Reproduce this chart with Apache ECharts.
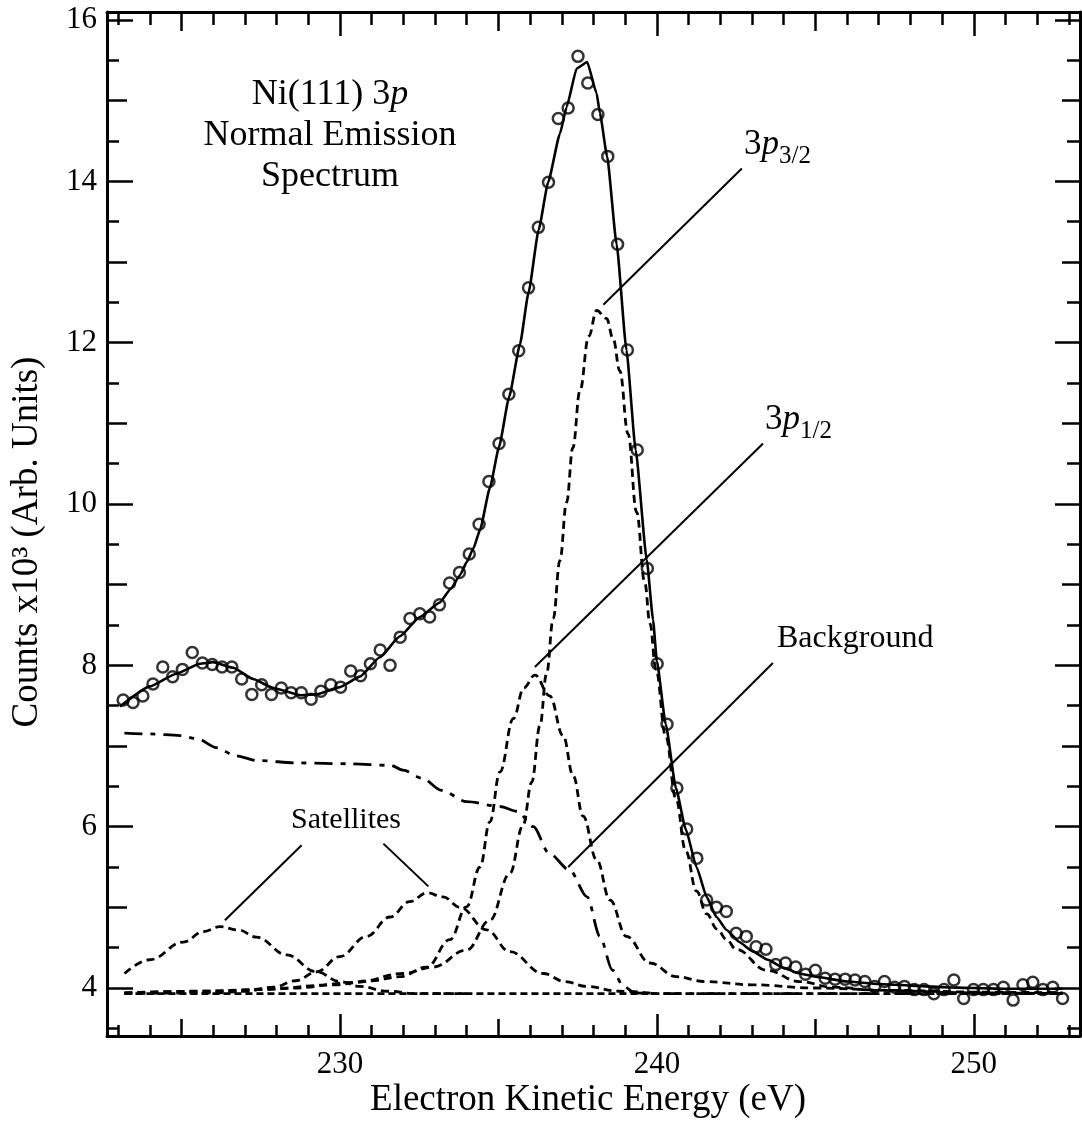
<!DOCTYPE html>
<html>
<head>
<meta charset="utf-8">
<title>Ni(111) 3p Normal Emission Spectrum</title>
<script src="https://cdn.jsdelivr.net/npm/echarts@6/dist/echarts.min.js"></script>
<style>
html, body { margin: 0; padding: 0; background: #fff; }
#chart { width: 1082px; height: 1128px; }
</style>
</head>
<body>
<div id="chart"></div>
<script>
// measured spectrum (open circles)
var energy = [223.16,223.47,223.78,224.10,224.41,224.72,225.03,225.34,225.66,225.97,
  226.28,226.59,226.90,227.22,227.53,227.84,228.15,228.46,228.78,229.09,
  229.40,229.71,230.02,230.34,230.65,230.96,231.27,231.58,231.90,232.21,
  232.52,232.83,233.14,233.46,233.77,234.08,234.39,234.70,235.02,235.33,
  235.64,235.95,236.26,236.58,236.89,237.20,237.51,237.82,238.14,238.45,
  238.76,239.07,239.38,239.70,240.01,240.32,240.63,240.94,241.26,241.57,
  241.88,242.19,242.50,242.82,243.13,243.44,243.75,244.06,244.38,244.69,
  245.00,245.31,245.62,245.94,246.25,246.56,246.87,247.18,247.50,247.81,
  248.12,248.43,248.74,249.06,249.37,249.68,249.99,250.30,250.62,250.93,
  251.24,251.55,251.86,252.18,252.49,252.80];
var counts = [7.57,7.54,7.62,7.77,7.98,7.86,7.95,8.16,8.03,8.01,
  7.98,7.98,7.83,7.64,7.76,7.64,7.72,7.66,7.66,7.58,
  7.68,7.76,7.73,7.93,7.87,8.02,8.19,8.00,8.35,8.58,
  8.64,8.60,8.75,9.02,9.15,9.38,9.75,10.28,10.75,11.36,
  11.90,12.68,13.43,13.99,14.78,14.91,15.55,15.22,14.83,14.31,
  13.22,11.91,10.67,9.20,8.02,7.27,6.48,5.97,5.61,5.09,
  5.00,4.95,4.68,4.64,4.51,4.48,4.29,4.31,4.26,4.17,
  4.22,4.12,4.11,4.11,4.10,4.08,4.02,4.08,4.01,4.02,
  3.98,3.98,3.93,3.98,4.10,3.87,3.98,3.98,3.98,4.01,
  3.85,4.04,4.07,3.98,4.01,3.87];

// total fit (solid line)
var fitE = [223.06,224.01,224.85,225.58,226.00,226.63,227.26,227.90,228.74,229.26,
  230.00,230.63,231.26,231.89,232.52,233.15,233.50,233.79,234.00,234.21,
  234.42,234.73,235.02,235.34,235.68,235.95,236.27,236.57,236.94,237.15,
  237.47,237.80,238.10,238.20,238.43,238.73,239.04,239.33,239.68,239.88,
  240.00,240.28,240.60,240.91,241.25,241.57,241.88,242.20,242.60,243.00,
  243.50,244.00,244.50,245.00,246.00,247.00,248.00,249.00,250.00,251.00,252.80];
var fitC = [7.49,7.74,7.90,8.02,8.04,7.97,7.83,7.72,7.63,7.64,
  7.73,7.86,8.10,8.36,8.60,8.78,8.95,9.12,9.28,9.45,
  9.68,10.20,10.71,11.33,11.98,12.62,13.40,13.99,14.59,14.92,
  15.40,15.48,15.09,14.85,14.31,13.22,11.91,10.67,9.31,8.56,
  8.05,7.27,6.48,5.97,5.50,5.13,4.88,4.72,4.57,4.46,
  4.35,4.25,4.18,4.14,4.08,4.05,4.03,4.01,4.00,3.99,3.99];

// background (dash-dot)
var bgE = [223.2,224.0,224.95,225.5,226.1,226.7,227.4,228.7,230.3,231.6,232.0,232.6,233.2,234.0,235.05,235.6,236.1,236.6,237.25,237.8,238.2,238.6,238.95,239.3,240.0,252.8];
var bgC = [7.16,7.15,7.13,7.09,6.98,6.88,6.82,6.79,6.78,6.76,6.70,6.60,6.45,6.31,6.25,6.19,6.00,5.67,5.46,5.13,4.64,4.22,4.02,3.94,3.93,3.93];

// constant offset
var baseE = [223.2, 252.8];
var baseC = [3.93, 3.93];

// satellite components
var sat1E = [223.2,224.0,225.06,225.7,226.21,226.8,227.37,228.32,229.26,230.0,230.63,231.5,232.42,234.0];
var sat1C = [4.18,4.35,4.57,4.70,4.76,4.72,4.63,4.41,4.20,4.08,4.02,3.96,3.93,3.93];
var sat2E = [223.2,226.0,227.0,227.9,228.6,229.26,230.0,230.84,231.58,232.2,232.75,233.25,233.79,234.63,235.36,236.41,237.1,237.78,238.8,240.0];
var sat2C = [3.93,3.94,3.96,4.01,4.09,4.20,4.39,4.64,4.88,5.07,5.18,5.13,5.00,4.72,4.45,4.18,4.08,4.02,3.96,3.93];

// 3p1/2 and 3p3/2 components
var p12E = [223.2,225.5,227.5,229.8,231.0,231.9,232.74,233.47,234.0,234.42,234.73,235.05,235.47,235.8,236.15,236.62,237.04,237.36,237.67,238.10,238.52,239.04,239.78,240.62,241.5,243.0,245.0,247.5,250.0,252.8];
var p12C = [3.94,3.96,3.98,4.04,4.09,4.14,4.26,4.60,5.01,5.50,6.06,6.68,7.34,7.72,7.88,7.62,7.13,6.63,6.13,5.59,5.09,4.64,4.31,4.14,4.08,4.04,4.00,3.97,3.95,3.94];
var p32E = [223.2,226.0,228.5,230.5,232.0,232.94,234.0,234.73,235.36,235.78,236.05,236.31,236.52,236.73,236.94,237.15,237.35,237.57,237.85,238.10,238.41,238.62,238.83,239.09,239.36,239.62,239.78,239.97,240.28,240.6,240.91,241.25,241.57,241.9,242.2,242.5,243.46,244.5,245.55,247.0,250.0,252.8];
var p32C = [3.94,3.96,4.00,4.07,4.18,4.26,4.47,4.84,5.42,6.02,6.55,7.25,7.90,8.58,9.30,10.02,10.70,11.40,12.08,12.40,12.30,12.05,11.65,10.87,9.90,9.02,8.52,7.95,7.12,6.35,5.70,5.20,4.92,4.73,4.60,4.48,4.22,4.08,4.01,3.97,3.94,3.93];

// label leader lines [from, to] in data units
var leaders = [
  [[238.31, 12.47], [242.68, 14.16]],
  [[236.15, 7.98], [243.35, 10.75]],
  [[237.20, 5.50], [243.66, 8.03]],
  [[226.37, 4.84], [228.79, 5.77]],
  [[231.37, 5.79], [232.79, 5.26]]
];

// ticks
var xMajorTicks = [230, 240, 250];
var xMidTicks = [225, 235, 245];
var xMinorTicks = [223,224,226,227,228,229,231,232,233,234,236,237,238,239,241,242,243,244,246,247,248,249,251,252,253];
var yMajorTicks = [4, 6, 8, 10, 12, 14, 16];
var yMidTicks = [5, 7, 9, 11, 13, 15];
var yMinorTicks = [3.5,4.5,5.5,6.5,7.5,8.5,9.5,10.5,11.5,12.5,13.5,14.5,15.5];

var X_MIN = 222.65, X_MAX = 253.35, Y_MIN = 3.405, Y_MAX = 16.1;
var FONT = 'Liberation Serif';

function pairs(xs, ys) {
  return xs.map(function (x, i) { return [x, ys[i]]; });
}

function xAx(pos, ticks, len, main) {
  return {
    type: 'value', position: pos, min: X_MIN, max: X_MAX,
    axisLine: { show: main, onZero: false, lineStyle: { color: '#000', width: 3 } },
    axisTick: { show: true, inside: true, length: len, customValues: ticks, lineStyle: { color: '#000', width: 2.5 } },
    axisLabel: { show: main && pos === 'bottom', customValues: ticks, margin: 13, color: '#000', fontFamily: FONT, fontSize: 31 },
    splitLine: { show: false }
  };
}
function yAx(pos, ticks, len, main) {
  return {
    type: 'value', position: pos, min: Y_MIN, max: Y_MAX,
    axisLine: { show: main, onZero: false, lineStyle: { color: '#000', width: 3 } },
    axisTick: { show: true, inside: true, length: len, customValues: ticks, lineStyle: { color: '#000', width: 2.5 } },
    axisLabel: { show: main && pos === 'left', customValues: ticks, margin: 10, color: '#000', fontFamily: FONT, fontSize: 31 },
    splitLine: { show: false }
  };
}

function curve(name, xs, ys, dash, width, smooth) {
  return {
    name: name, type: 'line', data: pairs(xs, ys), showSymbol: false, silent: true,
    smooth: smooth, smoothMonotone: 'x',
    lineStyle: { color: '#000', width: width, type: dash }
  };
}

var series = [
  curve('Background', bgE, bgC, [18, 8, 5, 8], 2.8, 0.3),
  curve('Offset', baseE, baseC, [7, 4], 2.8, false),
  curve('Satellite 1', sat1E, sat1C, [8, 5], 2.8, 0.4),
  curve('Satellite 2', sat2E, sat2C, [8, 5], 2.8, 0.4),
  curve('3p1/2', p12E, p12C, [8, 5], 2.8, 0.4),
  curve('3p3/2', p32E, p32C, [8, 5], 2.8, 0.4),
  curve('Fit', fitE, fitC, 'solid', 2.6, 0.15),
  {
    name: 'Data', type: 'scatter', data: pairs(energy, counts), symbol: 'circle', symbolSize: 11,
    itemStyle: { color: 'rgba(255,255,255,0)', borderColor: '#000', borderWidth: 2.5 }, z: 5
  }
];
leaders.forEach(function (seg, k) {
  series.push({
    name: 'leader' + k, type: 'line', data: seg, showSymbol: false, silent: true,
    lineStyle: { color: '#000', width: 2 }
  });
});

function txt(x, y, text, size, align, extra) {
  var st = { text: text, fill: '#000', fontFamily: FONT, fontSize: size, align: align, verticalAlign: 'middle' };
  if (extra) for (var k in extra) st[k] = extra[k];
  return { type: 'text', x: x, y: y, z: 100, style: st };
}
function pLabel(x, y, sub) {
  return txt(x, y, '{n|3}{i|p}{s|' + sub + '}', 35, 'left', {
    rich: {
      n: { fontFamily: FONT, fontSize: 35, fill: '#000' },
      i: { fontFamily: FONT, fontSize: 35, fontStyle: 'italic', fill: '#000' },
      s: { fontFamily: FONT, fontSize: 25, fill: '#000', padding: [22, 0, 0, 0] }
    }
  });
}

var chart = echarts.init(document.getElementById('chart'));
chart.setOption({
  animation: false,
  backgroundColor: '#fff',
  grid: { left: 107, right: 2, top: 12, bottom: 92, containLabel: false },
  xAxis: [
    xAx('bottom', xMajorTicks, 22, true),
    xAx('bottom', xMidTicks, 17, false),
    xAx('bottom', xMinorTicks, 11, false),
    xAx('top', xMajorTicks, 24, true),
    xAx('top', xMidTicks, 19, false),
    xAx('top', xMinorTicks, 13, false)
  ],
  yAxis: [
    yAx('left', yMajorTicks, 26, true),
    yAx('left', yMidTicks, 20, false),
    yAx('left', yMinorTicks, 12, false),
    yAx('right', yMajorTicks, 25, true),
    yAx('right', yMidTicks, 18, false),
    yAx('right', yMinorTicks, 13, false)
  ],
  series: series,
  graphic: [
    txt(588, 1100, 'Electron Kinetic Energy (eV)', 37, 'center'),
    { type: 'text', x: 27, y: 542, rotation: Math.PI / 2, z: 100,
      style: { text: 'Counts x10\u00b3 (Arb. Units)', fill: '#000', fontFamily: FONT, fontSize: 37, align: 'center', verticalAlign: 'middle' } },
    txt(330, 95, '{n|Ni(111) 3}{i|p}', 36, 'center', {
      rich: {
        n: { fontFamily: FONT, fontSize: 36, fill: '#000' },
        i: { fontFamily: FONT, fontSize: 36, fontStyle: 'italic', fill: '#000' }
      }
    }),
    txt(330, 136, 'Normal Emission', 36, 'center'),
    txt(330, 177, 'Spectrum', 36, 'center'),
    pLabel(744, 145, '3/2'),
    pLabel(765, 420, '1/2'),
    txt(777, 639, 'Background', 32, 'left'),
    txt(346, 820, 'Satellites', 30, 'center')
  ]
});
</script>
</body>
</html>
